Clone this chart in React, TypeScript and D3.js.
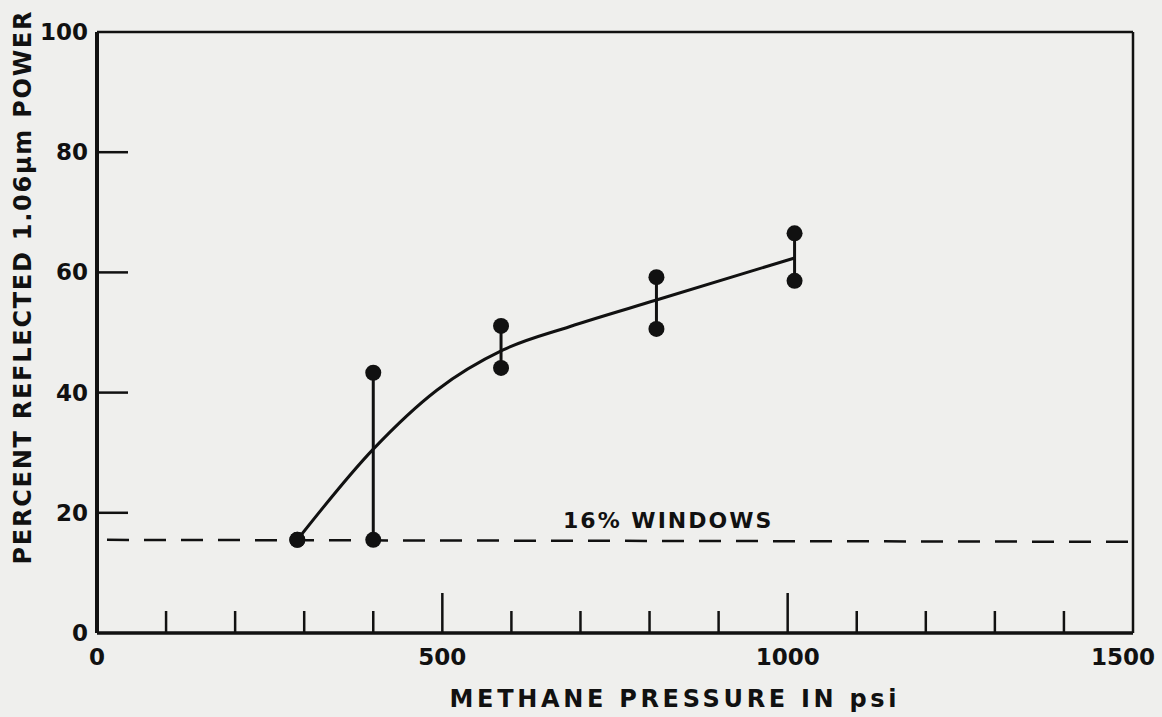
import React from 'react';
import * as d3 from 'd3';

// measured pressures (psi) and reflected power range (%)
const pressure = [290, 400, 585, 810, 1010];
const lowPct = [15.5, 15.5, 44.1, 50.6, 58.6];
const highPct = [15.5, 43.3, 51.1, 59.2, 66.5];

// hand-fitted curve
const curvePressure = [290, 400, 492, 588, 685, 810, 1010];
const curvePct = [15.5, 30.6, 40.4, 47.1, 51.0, 55.4, 62.4];

const windowLevel = 15.5;
const xTickLabels = [0, 500, 1000, 1500];
const yTickLabels = [0, 20, 40, 60, 80, 100];
const xMinorTicks = [100, 200, 300, 400, 600, 700, 800, 900, 1100, 1200, 1300, 1400];
const xMajorTicks = [500, 1000];
const yInnerTicks = [20, 40, 60, 80];

const W = 1162;
const H = 717;
const FONT = '"DejaVu Sans", Verdana, sans-serif';

export default function App() {
  const x = d3.scaleLinear().domain([0, 1500]).range([97, 1133]);
  const y = d3.scaleLinear().domain([0, 100]).range([633, 32]);

  const line = d3
    .line<number>()
    .x((d, i) => x(curvePressure[i]))
    .y((d) => y(d))
    .curve(d3.curveMonotoneX);

  return (
    <svg
      width={W}
      height={H}
      style={{ position: 'absolute', left: 0, top: 0, background: '#efefed' }}
    >
      <rect width={W} height={H} fill="#efefed" />

      {/* frame */}
      <line x1={x(0)} x2={x(1500)} y1={y(100)} y2={y(100)} stroke="#111" strokeWidth={2.5} />
      <line x1={x(1500)} x2={x(1500)} y1={y(100)} y2={y(0)} stroke="#111" strokeWidth={2.5} />
      <line x1={x(0)} x2={x(1500)} y1={y(0)} y2={y(0)} stroke="#111" strokeWidth={3.5} />
      <line x1={x(0)} x2={x(0)} y1={y(100)} y2={y(0)} stroke="#111" strokeWidth={4} />

      {/* inward ticks */}
      {yInnerTicks.map((t) => (
        <line key={'yt' + t} x1={x(0)} x2={x(0) + 31} y1={y(t)} y2={y(t)} stroke="#111" strokeWidth={2.5} />
      ))}
      {xMinorTicks.map((t) => (
        <line key={'xm' + t} x1={x(t)} x2={x(t)} y1={y(0)} y2={y(0) - 22} stroke="#111" strokeWidth={2.5} />
      ))}
      {xMajorTicks.map((t) => (
        <line key={'xM' + t} x1={x(t)} x2={x(t)} y1={y(0)} y2={y(0) - 40} stroke="#111" strokeWidth={2.5} />
      ))}

      {/* tick labels */}
      {yTickLabels.map((t) => (
        <text
          key={'yl' + t}
          x={88}
          y={y(t) + 8}
          textAnchor="end"
          fontFamily={FONT}
          fontWeight="bold"
          fontSize={23}
          fill="#111"
        >
          {t}
        </text>
      ))}
      {xTickLabels.map((t) => (
        <text
          key={'xl' + t}
          x={t === 1500 ? x(t) - 10 : x(t)}
          y={665}
          textAnchor="middle"
          fontFamily={FONT}
          fontWeight="bold"
          fontSize={23}
          fill="#111"
        >
          {t}
        </text>
      ))}

      {/* dashed window level */}
      <line
        x1={x(0) + 10}
        x2={x(1500)}
        y1={y(windowLevel)}
        y2={y(windowLevel) + 2}
        stroke="#111"
        strokeWidth={2.5}
        strokeDasharray="22 15"
      />
      <text
        x={x(827)}
        y={y(windowLevel) - 12}
        textAnchor="middle"
        fontFamily={FONT}
        fontWeight="bold"
        fontSize={22}
        letterSpacing={2}
        fill="#111"
      >
        16% WINDOWS
      </text>

      {/* fitted curve */}
      <path d={line(curvePct) || ''} fill="none" stroke="#111" strokeWidth={3} />

      {/* error bars */}
      {pressure.map((p, i) => (
        <g key={'eb' + p}>
          <line x1={x(p)} x2={x(p)} y1={y(lowPct[i])} y2={y(highPct[i])} stroke="#111" strokeWidth={3} />
          <circle cx={x(p)} cy={y(lowPct[i])} r={8} fill="#111" />
          <circle cx={x(p)} cy={y(highPct[i])} r={8} fill="#111" />
        </g>
      ))}

      {/* axis titles */}
      <text
        x={673}
        y={707}
        textAnchor="middle"
        fontFamily={FONT}
        fontWeight="bold"
        fontSize={24}
        textLength={447}
        lengthAdjust="spacing"
        fill="#111"
      >
        METHANE PRESSURE IN psi
      </text>
      <text
        transform="translate(31,288) rotate(-90)"
        textAnchor="middle"
        fontFamily={FONT}
        fontWeight="bold"
        fontSize={24}
        textLength={553}
        lengthAdjust="spacing"
        fill="#111"
      >
        PERCENT REFLECTED 1.06μm POWER
      </text>
    </svg>
  );
}
